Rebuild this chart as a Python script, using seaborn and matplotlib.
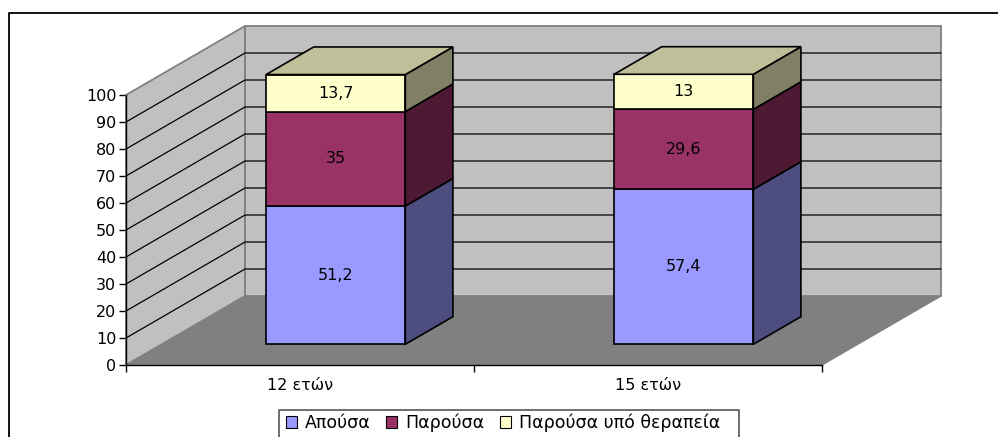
import pandas as pd
import matplotlib.pyplot as plt
import seaborn as sns
from matplotlib.lines import Line2D
from matplotlib.patches import Patch, Polygon, Rectangle

ages = ["12 ετών", "15 ετών"]
series_names = ["Απούσα", "Παρούσα", "Παρούσα υπό θεραπεία"]
absent = [51.2, 57.4]
present = [35, 29.6]
treated = [13.7, 13]
y_ticks = [0, 10, 20, 30, 40, 50, 60, 70, 80, 90, 100]

front_colors = ["#9999FF", "#993366", "#FFFFCC"]
side_colors = ["#4D4D80", "#4D1933", "#808066"]
top_color = "#BFBF99"

W, H = 998, 437
PX_X = 348  # pixels per category
PX_Y = 2.7  # pixels per percent
DEPTH_PX = (119, 69)  # full depth of the floor
BAR_START, BAR_END = 0.3, 0.7
BAR_WIDTH = 0.4
FONT_SIZE = 11.5

sns.set_theme(style="white")
plt.rcParams["font.family"] = ["DejaVu Sans"]
plt.rcParams["text.color"] = "black"
plt.rcParams["axes.labelcolor"] = "black"
plt.rcParams["xtick.color"] = "black"
plt.rcParams["ytick.color"] = "black"

df = pd.DataFrame({"age": ages, series_names[0]: absent, series_names[1]: present, series_names[2]: treated})

fig = plt.figure(figsize=(W / 100, H / 100), dpi=100)
ax = fig.add_axes([126 / W, 1 - 365 / H, 696 / W, 270 / H])
ax.patch.set_visible(False)
ax.set_xlim(-0.5, 1.5)
ax.set_ylim(0, 100)

# depth expressed in data units
dx = DEPTH_PX[0] / PX_X
dy = DEPTH_PX[1] / PX_Y
x0, x1 = ax.get_xlim()

# walls and floor
wall = "#C0C0C0"
edge = "#808080"
ax.add_patch(Polygon([(x0, 0), (x1, 0), (x1 + dx, dy), (x0 + dx, dy)], closed=True, fc=edge, ec=edge, lw=1, clip_on=False, zorder=1))
ax.add_patch(Polygon([(x0, 0), (x0, 100), (x0 + dx, 100 + dy), (x0 + dx, dy)], closed=True, fc=wall, ec=edge, lw=1.3, clip_on=False, zorder=1))
ax.add_patch(Rectangle((x0 + dx, dy), x1 - x0, 100, fc=wall, ec=edge, lw=1.3, clip_on=False, zorder=1))
for v in y_ticks[1:-1]:
    ax.plot([x0, x0 + dx, x1 + dx], [v, v + dy, v + dy], color="black", lw=0.9, clip_on=False, zorder=1.5)

# axis
for side in ["top", "right"]:
    ax.spines[side].set_visible(False)
for side in ["left", "bottom"]:
    ax.spines[side].set_color("black")
    ax.spines[side].set_linewidth(1)
ax.set_yticks(y_ticks)
ax.tick_params(axis="y", length=5, width=1, labelsize=FONT_SIZE, pad=2, left=True)
ax.set_xticks([-0.5, 0.5, 1.5], labels=["", "", ""])
ax.set_xticks([0, 1], labels=ages, minor=True)
ax.tick_params(axis="x", which="major", length=5, width=1, bottom=True)
ax.tick_params(axis="x", which="minor", length=0, labelsize=FONT_SIZE, pad=9)

# bars live on their own axes, shifted back into the floor
shift_x = BAR_START * DEPTH_PX[0]
shift_y = BAR_START * DEPTH_PX[1]
ax_bars = fig.add_axes([(126 + shift_x) / W, 1 - (365 - shift_y) / H, 696 / W, 270 / H])
ax_bars.patch.set_visible(False)
ax_bars.axis("off")

bar_dx = (BAR_END - BAR_START) * dx
bar_dy = (BAR_END - BAR_START) * dy
bottoms = [0.0] * len(ages)
for name, front, side in zip(series_names, front_colors, side_colors):
    sns.barplot(data=df, x="age", y=name, order=ages, bottom=bottoms, width=BAR_WIDTH, color=front,
                saturation=1, edgecolor="black", linewidth=1.2, errorbar=None, clip_on=False, ax=ax_bars)
    container = ax_bars.containers[-1]
    labels = [f"{v:g}".replace(".", ",") for v in df[name]]
    ax_bars.bar_label(container, labels=labels, label_type="center", fontsize=FONT_SIZE, color="black")
    for i, v in enumerate(df[name]):
        right = i + BAR_WIDTH / 2
        lo, hi = bottoms[i], bottoms[i] + v
        ax_bars.add_patch(Polygon([(right, lo), (right + bar_dx, lo + bar_dy), (right + bar_dx, hi + bar_dy), (right, hi)],
                                  closed=True, fc=side, ec="black", lw=1.2, clip_on=False, zorder=2))
        bottoms[i] = hi

for i, total in enumerate(bottoms):
    left, right = i - BAR_WIDTH / 2, i + BAR_WIDTH / 2
    ax_bars.add_patch(Polygon([(left, total), (right, total), (right + bar_dx, total + bar_dy), (left + bar_dx, total + bar_dy)],
                              closed=True, fc=top_color, ec="black", lw=1.2, clip_on=False, zorder=2))

ax_bars.set_xlim(-0.5, 1.5)
ax_bars.set_ylim(0, 100)

# legend and outer frame
handles = [Patch(fc=c, ec="black", lw=0.8) for c in front_colors]
fig.legend(handles, series_names, loc="center left", bbox_to_anchor=(286 / W, 1 - 423 / H), ncols=3, frameon=False,
           fontsize=12.5, handlelength=0.63, handleheight=0.63, handletextpad=0.46, columnspacing=0.9, borderpad=0, borderaxespad=0)
fig.add_artist(Line2D([279 / W, 279 / W, 739 / W, 739 / W], [0, 1 - 410 / H, 1 - 410 / H, 0], color="#555555", lw=1.2))
fig.add_artist(Line2D([9 / W, 9 / W, 1], [0, 1 - 13 / H, 1 - 13 / H], color="black", lw=1.3))

fig.savefig("out.png", dpi=100)
